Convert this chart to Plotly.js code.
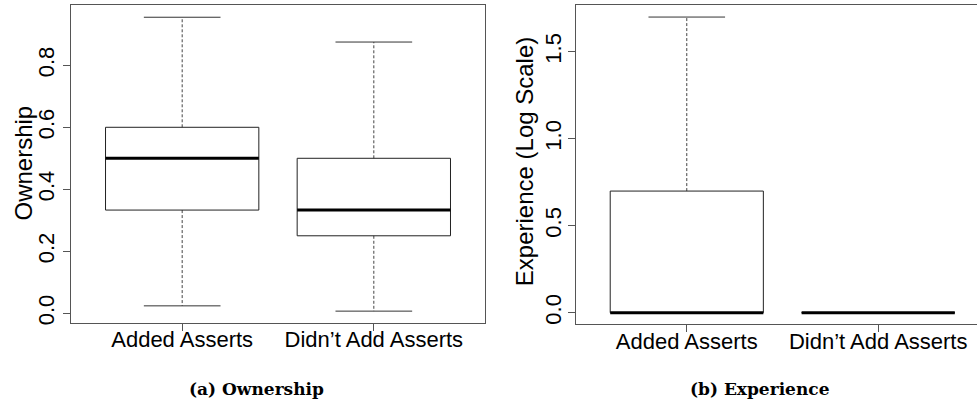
<!DOCTYPE html>
<html><head><meta charset="utf-8">
<script src="https://cdn.plot.ly/plotly-3.0.1.min.js"></script>
<style>html,body{margin:0;padding:0;background:#fff}#chart{width:977px;height:402px}</style>
</head><body><div id="chart"></div>
<script>
const categories = ["Added Asserts", "Didn\u2019t Add Asserts"];
const ownLower = [0.024, 0.007];
const ownQ1 = [0.333, 0.25];
const ownMedian = [0.5, 0.333];
const ownQ3 = [0.6, 0.5];
const ownUpper = [0.955, 0.875];
const expLower = [0, 0];
const expQ1 = [0, 0];
const expMedian = [0, 0];
const expQ3 = [0.699, 0];
const expUpper = [1.699, 0];
const ownTicks = [0, 0.2, 0.4, 0.6, 0.8];
const ownTickText = ["0.0", "0.2", "0.4", "0.6", "0.8"];
const expTicks = [0, 0.5, 1.0, 1.5];
const expTickText = ["0.0", "0.5", "1.0", "1.5"];
const yTitles = ["Ownership", "Experience (Log Scale)"];
const captions = ["(a) Ownership", "(b) Experience"];

const HALF = 0.4, CAP = 0.2;
function boxTraces(lo, q1, med, q3, hi, xa, ya) {
  const rx = [], ry = [], wx = [], wy = [], cx = [], cy = [], mx = [], my = [];
  for (let i = 0; i < q1.length; i++) {
    const p = i + 1;
    rx.push(p - HALF, p + HALF, p + HALF, p - HALF, p - HALF, null);
    ry.push(q1[i], q1[i], q3[i], q3[i], q1[i], null);
    wx.push(p, p, null, p, p, null);
    wy.push(q3[i], hi[i], null, q1[i], lo[i], null);
    cx.push(p - CAP, p + CAP, null, p - CAP, p + CAP, null);
    cy.push(hi[i], hi[i], null, lo[i], lo[i], null);
    mx.push(p - HALF, p + HALF, null);
    my.push(med[i], med[i], null);
  }
  const base = {type: 'scatter', mode: 'lines', xaxis: xa, yaxis: ya, hoverinfo: 'skip', showlegend: false};
  return [
    Object.assign({}, base, {x: wx, y: wy, line: {color: '#444', width: 1, dash: '3px,2px'}}),
    Object.assign({}, base, {x: cx, y: cy, line: {color: '#333', width: 1}}),
    Object.assign({}, base, {x: rx, y: ry, line: {color: '#222', width: 1}}),
    Object.assign({}, base, {x: mx, y: my, line: {color: '#000', width: 3}})
  ];
}

const data = [].concat(
  boxTraces(ownLower, ownQ1, ownMedian, ownQ3, ownUpper, 'x', 'y'),
  boxTraces(expLower, expQ1, expMedian, expQ3, expUpper, 'x2', 'y2')
);

const sans = 'Liberation Sans, Arial, sans-serif';
const tickFont = {family: sans, size: 22, color: '#000'};
const xCommon = {tickvals: [1, 2], ticktext: categories, ticks: 'outside', ticklen: 7, tickcolor: '#555',
  showline: true, linecolor: '#555', linewidth: 1, mirror: true, showgrid: false, zeroline: false,
  tickfont: tickFont, fixedrange: true, ticklabelstandoff: -10};
const yCommon = {ticks: 'outside', ticklen: 7, tickcolor: '#555', tickangle: -90,
  showline: true, linecolor: '#555', linewidth: 1, showgrid: false, zeroline: false,
  tickfont: tickFont, fixedrange: true};

const titleFont = {family: sans, size: 24, color: '#000'};
const capFont = {family: 'DejaVu Serif, serif', size: 17, color: '#000', weight: 'bold'};

const layout = {
  width: 977, height: 402,
  margin: {l: 0, r: 0, t: 0, b: 0},
  paper_bgcolor: '#fff', plot_bgcolor: '#fff',
  hovermode: false, showlegend: false,
  xaxis: Object.assign({}, xCommon, {domain: [0.0727, 0.4964], range: [0.42, 2.58], anchor: 'y'}),
  yaxis: Object.assign({}, yCommon, {domain: [0.1973, 0.9868], range: [-0.0303, 0.9935], anchor: 'x',
    mirror: true, tickvals: ownTicks, ticktext: ownTickText}),
  xaxis2: Object.assign({}, xCommon, {domain: [0.5893, 1], range: [0.42, 2.516], anchor: 'y2'}),
  yaxis2: Object.assign({}, yCommon, {domain: [0.1933, 0.9883], range: [-0.0667, 1.770], anchor: 'x2',
    mirror: false, tickvals: expTicks, ticktext: expTickText, ticklabelstandoff: -2}),
  annotations: [
    {text: yTitles[0], xref: 'paper', yref: 'paper', x: 22.5 / 977, y: (402 - 163) / 402, textangle: -90,
      xanchor: 'center', yanchor: 'middle', showarrow: false, font: titleFont},
    {text: yTitles[1], xref: 'paper', yref: 'paper', x: 524.7 / 977, y: (402 - 161.5) / 402, textangle: -90,
      xanchor: 'center', yanchor: 'middle', showarrow: false, font: titleFont},
    {text: captions[0], xref: 'paper', yref: 'paper', x: 256 / 977, y: (402 - 389) / 402,
      xanchor: 'center', yanchor: 'middle', showarrow: false, font: capFont},
    {text: captions[1], xref: 'paper', yref: 'paper', x: 760 / 977, y: (402 - 389) / 402,
      xanchor: 'center', yanchor: 'middle', showarrow: false, font: capFont}
  ]
};

Plotly.newPlot('chart', data, layout, {displayModeBar: false, staticPlot: true});
</script>
</body></html>
